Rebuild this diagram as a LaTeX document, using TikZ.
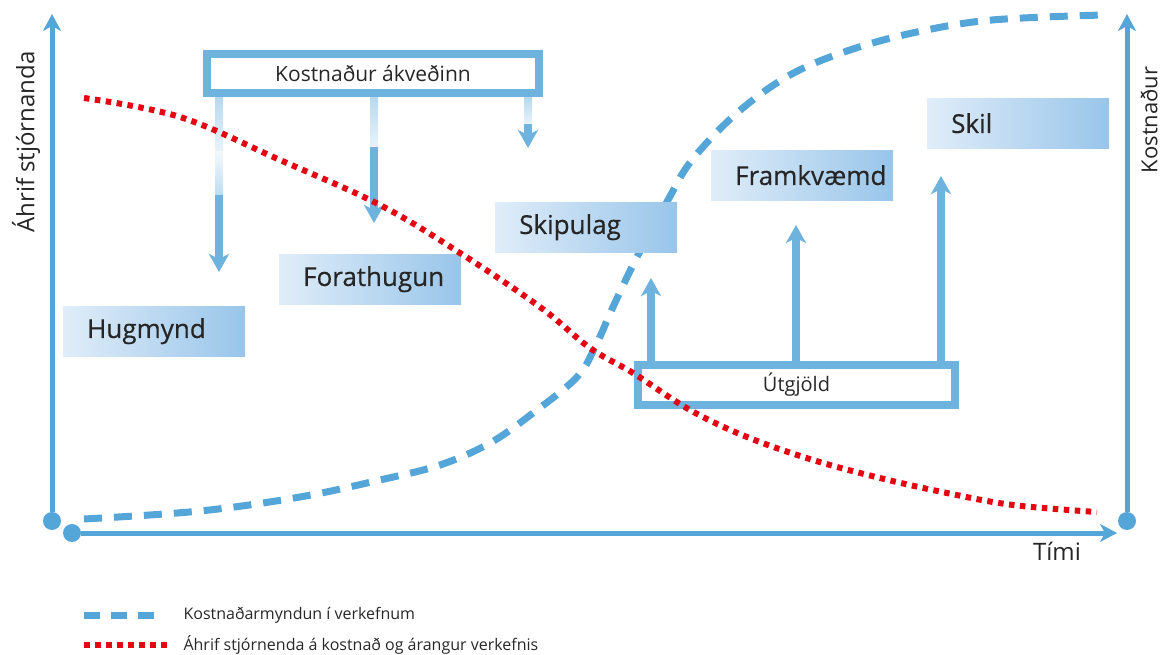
\documentclass[tikz,border=0pt]{standalone}
\usepackage{fontspec}
\setmainfont{Open Sans}
\newfontfamily\phasefont[FakeBold=0.5]{Open Sans}
\usetikzlibrary{arrows.meta,calc}
\pgfdeclarelayer{background}
\pgfsetlayers{background,main}
\definecolor{axisblue}{RGB}{84,165,216}
\definecolor{boxblue}{RGB}{110,178,222}
\definecolor{phaselight}{RGB}{224,237,249}
\definecolor{phasedark}{RGB}{152,197,234}
\definecolor{curvered}{RGB}{227,6,19}
\definecolor{inkgray}{RGB}{40,40,40}

\begin{document}
\begin{tikzpicture}[x=1pt,y=-1pt,
    axis/.style={draw=axisblue,line width=5pt,-{Stealth[length=17pt,width=18pt,inset=5pt]}},
    dot/.style={circle,fill=axisblue,inner sep=0pt,minimum size=18pt},
    phase/.style={anchor=north west,left color=phaselight,right color=phasedark,
      text width=134pt,inner xsep=24pt,minimum height=50pt,text=black!85,
      font=\phasefont\fontsize{26}{30}\selectfont},
    framebox/.style={draw=boxblue,line width=8pt,fill=white,text=inkgray},
    push/.style={draw=boxblue,line width=8pt,-{Stealth[length=18pt,width=20pt,inset=5pt]}},
    costline/.style={draw=axisblue,line width=7pt,dash pattern=on 18pt off 12pt},
    effectline/.style={draw=curvered,line width=6pt,dash pattern=on 5.5pt off 5.5pt},
    axislabel/.style={text=black!85,font=\fontsize{24}{28}\selectfont},
    legend/.style={anchor=west,text=inkgray,font=\fontsize{16}{19}\selectfont}]
\useasboundingbox (0,0) rectangle (1163,655);

% axes
\node[dot] (o1) at (52,521) {};
\node[dot] (o2) at (72,533) {};
\node[dot] (o3) at (1127,521) {};
\coordinate (ytop) at (52,14);
\coordinate (xend) at (1117,533);
\coordinate (ctop) at (1127,14);
\draw[axis] (o1) -- (ytop);
\draw[axis] (o2) -- (xend);
\draw[axis] (o3) -- (ctop);
\node[axislabel,rotate=90] (ylab) at (26,142) {Áhrif stjórnanda};
\node[axislabel,rotate=90,inner sep=1pt,font=\fontsize{22}{26}\selectfont] (clab) at (1149,120) {Kostnaður};
\node[axislabel] (tlab) at (1057,551) {Tími};

% phases
\foreach \name/\label [count=\i from 0] in
    {idea/Hugmynd,study/Forathugun,plan/Skipulag,build/Framkvæmd,deliver/Skil}
  \node[phase] (\name) at (63+216*\i,306-52*\i) {\label};

\node[framebox,minimum width=332pt,minimum height=39pt,font=\fontsize{21}{25}\selectfont]
  (kost) at (373,73.5) {Kostnaður ákveðinn};
\node[framebox,minimum width=317pt,minimum height=40pt,font=\fontsize{20}{24}\selectfont]
  (spend) at (796.5,385) {Útgjöld};

\begin{pgfonlayer}{background}
% cost curve
\draw[costline] plot[smooth,tension=0.6] coordinates {(84,519) (200,511) (300,497)
  (380,480) (440,465) (490,443) (533,413) (577,377) (596,345) (613,307) (637,257)
  (668,200) (692,160) (737,113) (790,75) (850,50) (917,32) (992,20) (1103,15)};
% arrows from the two frames
\foreach \x/\split/\mid/\tip [count=\i] in {219/152/195/272,374/147/147/223,528/124/124/148} {
  \coordinate (down\i) at (\x,\tip);
  \shade[top color=boxblue!50,bottom color=boxblue!15]
    ($(kost.south -| down\i)+(-4,0)$) rectangle (\x+4,\split);
  \shade[top color=boxblue!8,bottom color=boxblue!45] (\x-4,\split) rectangle (\x+4,\mid);
  \draw[push] (\x,\mid) -- (down\i);
}
\foreach \x/\tip [count=\i] in {651/278,796/225,941/176} {
  \coordinate (up\i) at (\x,\tip);
  \draw[push] (up\i |- spend.north) -- (up\i);
}
\end{pgfonlayer}

% influence curve
\draw[effectline] plot[smooth,tension=0.6] coordinates {(84,98) (180,117) (280,160)
  (380,205) (460,253) (540,307) (590,348) (633,373) (690,410) (747,437) (813,460)
  (880,478) (947,493) (1013,505) (1097,512)};

% legend
\node[legend] (leg1) at (180,615) {Kostnaðarmyndun í verkefnum};
\node[legend] (leg2) at (180,645) {Áhrif stjórnenda á kostnað og árangur verkefnis};
\draw[costline,dash pattern=on 16pt off 11pt] ([xshift=-96pt]leg1.west) -- ([xshift=-26pt]leg1.west);
\draw[effectline] ([xshift=-96pt]leg2.west) -- ([xshift=-13pt]leg2.west);
\end{tikzpicture}
\end{document}
